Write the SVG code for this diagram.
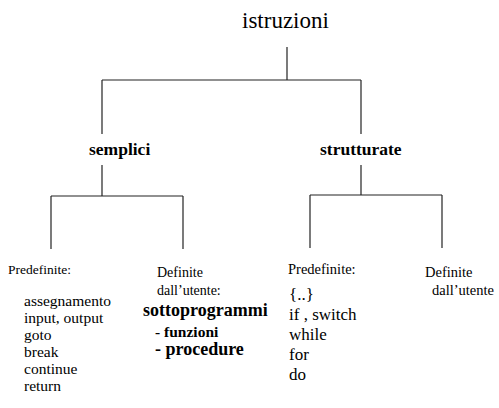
<svg xmlns="http://www.w3.org/2000/svg" width="499" height="408" viewBox="0 0 499 408">
<style>
text{font-family:"Liberation Serif","Times New Roman",serif;fill:#000}
.b{font-weight:bold}
.c line{stroke:#222;stroke-width:1.2}
</style>
<rect width="499" height="408" fill="#fff"/>
<g class="c" id="connectors">
<line x1="287" y1="47" x2="287" y2="80"/>
<line x1="102" y1="80" x2="361" y2="80"/>
<line x1="102" y1="80" x2="102" y2="134"/>
<line x1="361" y1="80" x2="361" y2="134"/>
<line x1="102" y1="165" x2="102" y2="196"/>
<line x1="51" y1="196" x2="183" y2="196"/>
<line x1="51" y1="196" x2="51" y2="249"/>
<line x1="183" y1="196" x2="183" y2="249"/>
<line x1="361" y1="165" x2="361" y2="195"/>
<line x1="310" y1="195" x2="442" y2="195"/>
<line x1="310" y1="195" x2="310" y2="248"/>
<line x1="442" y1="195" x2="442" y2="248"/>
</g>
<g id="istruzioni"><text x="242" y="28" font-size="23">istruzioni</text></g>
<g id="semplici"><text class="b" x="89" y="155" font-size="17.5">semplici</text></g>
<g id="strutturate"><text class="b" x="320" y="155" font-size="17.5">strutturate</text></g>
<g id="predef-semplici">
<text x="8" y="274" font-size="13.5">Predefinite:</text>
<g font-size="15.5">
<text x="24" y="306">assegnamento</text>
<text x="24" y="323">input, output</text>
<text x="24" y="340">goto</text>
<text x="24" y="357">break</text>
<text x="24" y="374">continue</text>
<text x="24" y="391">return</text>
</g>
</g>
<g id="def-semplici">
<text x="157" y="277" font-size="14">Definite</text>
<text x="157" y="295" font-size="14">dall’utente:</text>
<text class="b" x="143" y="316" font-size="18">sottoprogrammi</text>
<text class="b" x="155" y="337" font-size="15.5">- funzioni</text>
<text class="b" x="155" y="355" font-size="18">- procedure</text>
</g>
<g id="predef-strutturate">
<text x="288" y="274" font-size="14.5">Predefinite:</text>
<g font-size="17">
<text x="289" y="300">{..}</text>
<text x="289" y="320">if , switch</text>
<text x="289" y="340">while</text>
<text x="289" y="360">for</text>
<text x="289" y="380">do</text>
</g>
</g>
<g id="def-strutturate">
<text x="425" y="277" font-size="14.5">Definite</text>
<text x="432" y="295" font-size="14.5">dall’utente</text>
</g>
</svg>
